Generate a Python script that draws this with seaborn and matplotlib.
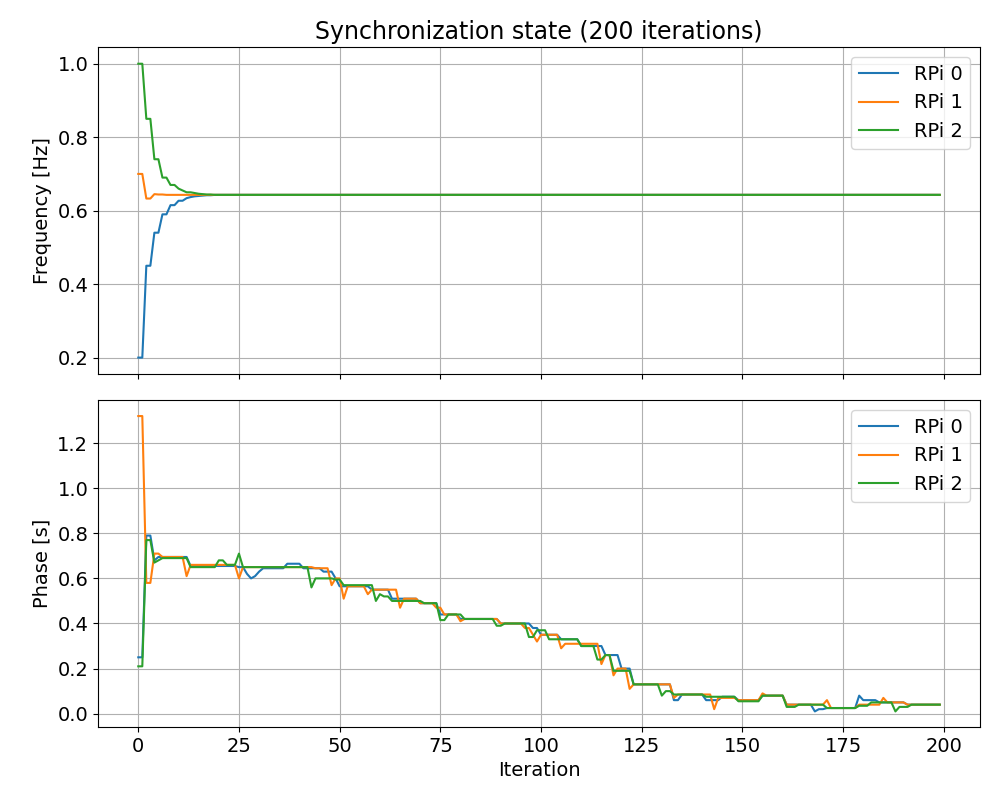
import matplotlib
matplotlib.use('Agg')
import matplotlib.pyplot as plt
import numpy as np
import pandas as pd
import seaborn as sns

# run-length encoded readings: (value, repeat count)
freq_runs = {
    'RPi 0': [(0.2, 2), (0.45, 2), (0.54, 2), (0.59, 2), (0.615, 2), (0.627, 2), (0.634, 1), (0.637, 1),
              (0.639, 1), (0.640, 1), (0.641, 1), (0.642, 2), (0.643, 181)],
    'RPi 1': [(0.70, 2), (0.633, 2), (0.645, 1), (0.644, 2), (0.643, 193)],
    'RPi 2': [(1.0, 2), (0.85, 2), (0.74, 2), (0.69, 2), (0.67, 2), (0.66, 1), (0.655, 1), (0.65, 2),
              (0.648, 1), (0.646, 1), (0.645, 1), (0.644, 2), (0.643, 181)],
}
phase_runs = {
    'RPi 0': [(0.25, 2), (0.79, 2), (0.68, 1), (0.695, 8), (0.655, 12), (0.65, 2), (0.62, 1), (0.60, 1),
              (0.61, 1), (0.63, 1), (0.645, 6), (0.665, 4), (0.645, 5), (0.63, 3), (0.60, 1), (0.565, 8),
              (0.55, 5), (0.51, 7), (0.49, 5), (0.44, 5), (0.42, 10), (0.40, 8), (0.38, 2), (0.35, 5),
              (0.33, 5), (0.30, 6), (0.26, 4), (0.20, 3), (0.13, 10), (0.06, 2), (0.085, 6), (0.06, 4),
              (0.075, 4), (0.06, 6), (0.08, 6), (0.04, 7), (0.01, 1), (0.02, 2), (0.025, 8), (0.08, 1),
              (0.06, 4), (0.05, 7), (0.04, 9)],
    'RPi 1': [(1.32, 2), (0.58, 2), (0.71, 2), (0.695, 6), (0.61, 1), (0.66, 12), (0.60, 1), (0.65, 18),
              (0.645, 4), (0.57, 1), (0.60, 2), (0.51, 1), (0.565, 5), (0.53, 1), (0.55, 7), (0.47, 1),
              (0.51, 4), (0.49, 4), (0.47, 2), (0.44, 4), (0.41, 1), (0.42, 9), (0.40, 6), (0.38, 2),
              (0.35, 1), (0.32, 1), (0.35, 5), (0.29, 1), (0.31, 9), (0.22, 1), (0.26, 2), (0.17, 1),
              (0.20, 3), (0.11, 1), (0.13, 10), (0.07, 1), (0.085, 9), (0.02, 1), (0.07, 5), (0.06, 6),
              (0.09, 1), (0.08, 5), (0.04, 10), (0.06, 1), (0.025, 7), (0.04, 6), (0.07, 1), (0.05, 5),
              (0.04, 9)],
    'RPi 2': [(0.21, 2), (0.77, 2), (0.67, 1), (0.68, 1), (0.69, 7), (0.65, 7), (0.68, 2), (0.66, 3),
              (0.71, 1), (0.65, 17), (0.56, 1), (0.60, 5), (0.595, 2), (0.57, 8), (0.50, 1), (0.53, 1),
              (0.52, 2), (0.50, 8), (0.49, 4), (0.415, 2), (0.44, 4), (0.42, 8), (0.39, 2), (0.40, 6),
              (0.34, 2), (0.37, 3), (0.33, 8), (0.30, 4), (0.24, 2), (0.26, 2), (0.19, 5), (0.13, 7),
              (0.08, 1), (0.10, 2), (0.085, 8), (0.075, 8), (0.055, 6), (0.08, 6), (0.03, 3), (0.04, 7),
              (0.025, 8), (0.035, 3), (0.05, 6), (0.01, 1), (0.03, 3), (0.04, 8)],
}


def expand(runs):
    vals, counts = zip(*runs)
    return np.repeat(vals, counts)


def to_frame(runs_dict, col):
    frames = []
    for name, runs in runs_dict.items():
        y = expand(runs)
        frames.append(pd.DataFrame({'Iteration': np.arange(len(y)), col: y, 'device': name}))
    return pd.concat(frames, ignore_index=True)


plt.rcParams['font.size'] = 14
colors = ['#1f77b4', '#ff7f0e', '#2ca02c']

fig, axes = plt.subplots(2, 1, sharex=True, figsize=(10, 8), dpi=100)
fig.subplots_adjust(left=0.098, right=0.98, top=0.941, bottom=0.091, hspace=0.08)

freq = to_frame(freq_runs, 'Frequency [Hz]')
phase = to_frame(phase_runs, 'Phase [s]')

sns.lineplot(data=freq, x='Iteration', y='Frequency [Hz]', hue='device', palette=colors, ax=axes[0])
sns.lineplot(data=phase, x='Iteration', y='Phase [s]', hue='device', palette=colors, ax=axes[1])

axes[0].set_title('Synchronization state (200 iterations)', fontsize=17)
for ax in axes:
    ax.grid(True)
    ax.legend(loc='upper right', title=None)
axes[0].set_xlabel('')
axes[0].set_ylim(0.155, 1.045)
axes[1].set_ylim(-0.06, 1.39)
axes[1].set_xlim(-10, 209)

fig.savefig('out.png')
